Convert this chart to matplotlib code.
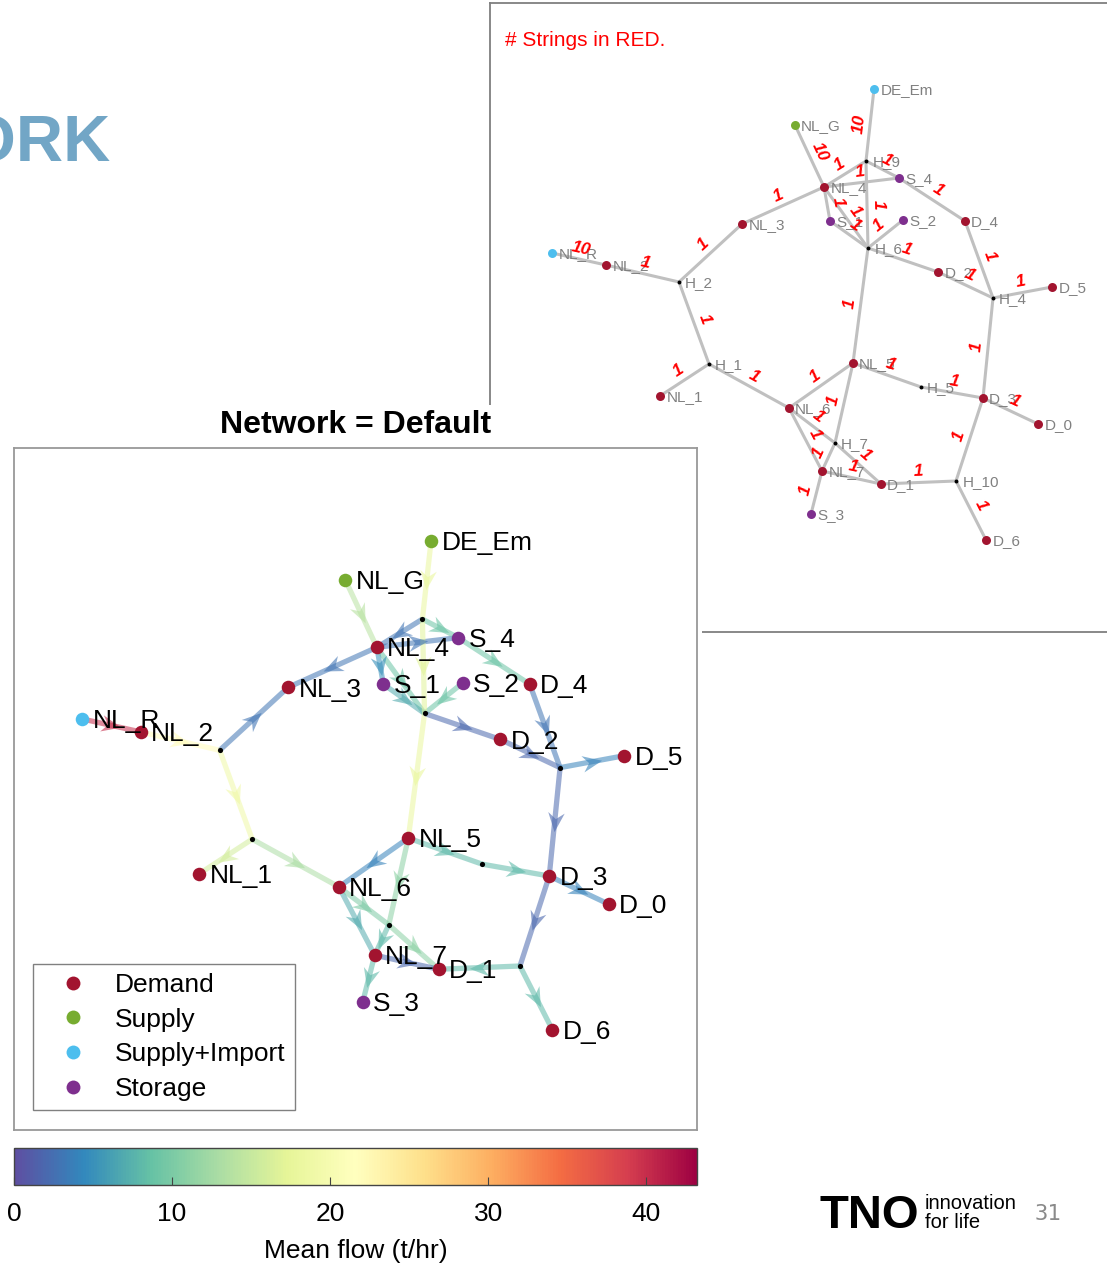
"""
Slide figure: network flow plot (Network = Default) next to the
string-count view of the same network.
"""

import matplotlib.pyplot as plt
import matplotlib.cm as cm
import numpy as np
from matplotlib.collections import LineCollection
from matplotlib.colors import Normalize
from matplotlib.lines import Line2D
from matplotlib.markers import MarkerStyle
from matplotlib.patches import Rectangle
from matplotlib.path import Path
from matplotlib.transforms import Affine2D

plt.rcParams['font.family'] = ['Liberation Sans', 'DejaVu Sans']

W, H = 1107, 1263

# ── data ────────────────────────────────────────────────────
NODES = ['DE_Em', 'NL_G', 'H_9', 'S_4', 'NL_4', 'NL_3', 'S_1', 'S_2', 'D_4',
         'NL_R', 'NL_2', 'H_2', 'H_6', 'D_2', 'H_4', 'D_5', 'H_1', 'NL_5',
         'H_5', 'D_3', 'NL_1', 'NL_6', 'D_0', 'H_7', 'NL_7', 'D_1', 'H_10',
         'S_3', 'D_6']
NODE_X = [3.22, 2.43, 3.14, 3.47, 2.72, 1.90, 2.78, 3.51, 4.13,
          0.00, 0.54, 1.27, 3.16, 3.86, 4.41, 5.00, 1.57, 3.01,
          3.69, 4.31, 1.08, 2.37, 4.86, 2.83, 2.70, 3.29, 4.04,
          2.59, 4.34]
NODE_Y = [4.51, 4.15, 3.79, 3.62, 3.53, 3.16, 3.19, 3.20, 3.19,
          2.87, 2.75, 2.58, 2.92, 2.68, 2.42, 2.53, 1.76, 1.77,
          1.53, 1.42, 1.44, 1.32, 1.16, 0.97, 0.69, 0.56, 0.59,
          0.26, 0.00]
# node types in the flow plot
NODE_TYPE = ['Supply', 'Supply', 'Junction', 'Storage', 'Demand', 'Demand',
             'Storage', 'Storage', 'Demand', 'Supply+Import', 'Demand',
             'Junction', 'Junction', 'Demand', 'Junction', 'Demand',
             'Junction', 'Demand', 'Junction', 'Demand', 'Demand', 'Demand',
             'Demand', 'Junction', 'Demand', 'Demand', 'Junction', 'Storage',
             'Demand']
# node types in the strings view (DE_Em shown as import there)
NODE_TYPE_STR = ['Supply+Import'] + NODE_TYPE[1:]

EDGE_SRC = ['DE_Em', 'NL_G', 'H_9', 'NL_4', 'H_9', 'S_4', 'NL_4', 'H_2',
            'NL_R', 'NL_2', 'H_2', 'H_1', 'H_1', 'NL_4', 'NL_4', 'S_1',
            'S_2', 'H_9', 'H_6', 'H_6', 'D_2', 'D_4', 'H_4', 'H_4',
            'NL_5', 'NL_5', 'H_5', 'D_3', 'D_3', 'H_10', 'H_10', 'NL_6',
            'NL_6', 'H_7', 'NL_5', 'H_7', 'NL_7', 'NL_7']
EDGE_DST = ['H_9', 'NL_4', 'NL_4', 'S_4', 'S_4', 'D_4', 'NL_3', 'NL_3',
            'NL_2', 'H_2', 'H_1', 'NL_1', 'NL_6', 'S_1', 'H_6', 'H_6',
            'H_6', 'H_6', 'NL_5', 'D_2', 'H_4', 'H_4', 'D_5', 'D_3',
            'NL_6', 'H_5', 'D_3', 'D_0', 'H_10', 'D_1', 'D_6', 'NL_7',
            'H_7', 'D_1', 'H_7', 'NL_7', 'S_3', 'D_1']
EDGE_FLOW = [18, 14, 3, 3, 9, 9, 3, 3,
             40, 22, 19, 16, 13, 5, 9, 7,
             9, 17, 18, 2, 2, 3, 4, 2,
             4, 8, 8, 4, 2, 8, 8, 7,
             10, 11, 11, 8, 8, 2]
EDGE_STRINGS = ['10', '10', '1', '1', '1', '1', '1', '1',
                '10', '1', '1', '1', '1', '1', '1', '1',
                '1', '1', '1', '1', '1', '1', '1', '1',
                '1', '1', '1', '1', '1', '1', '1', '1',
                '1', '1', '1', '1', '1', '1']

LEGEND_TYPES = ['Demand', 'Supply', 'Supply+Import', 'Storage']
FLOW_MAX = 43.2
CBAR_TICKS = [0, 10, 20, 30, 40]

# ── style ───────────────────────────────────────────────────
TYPE_COLOR = {
    'Demand': '#a2142f',
    'Supply': '#77ac30',
    'Supply+Import': '#4dbeee',
    'Storage': '#7e2f8e',
    'Junction': 'black',
}
HEAD_BLUE = '#72a6c6'
GREY_EDGE = '#c0c0c0'
GREY_TEXT = '#808080'

# notched arrowhead, pointing along +x
ARROW = Path([(1, 0), (-1, 0.85), (-0.35, 0), (-1, -0.85), (1, 0)],
             [Path.MOVETO, Path.LINETO, Path.LINETO, Path.LINETO,
              Path.CLOSEPOLY])

pos = dict(zip(NODES, zip(NODE_X, NODE_Y)))


def edge_geometry(s, d):
    (x0, y0), (x1, y1) = pos[s], pos[d]
    ang = np.degrees(np.arctan2(y1 - y0, x1 - x0))
    return x0, y0, x1, y1, ang


fig = plt.figure(figsize=(W / 100, H / 100), dpi=100)
fig.patch.set_facecolor('white')

# ── right panel: strings view ───────────────────────────────
axr = fig.add_axes([490 / W, 1 - 632 / H, 617 / W, 629 / H], zorder=0)
axr.set_xlim(-0.62, 5.55)
axr.set_ylim(-0.92, 5.37)
axr.set_xticks([])
axr.set_yticks([])
for side in ['top', 'left', 'bottom']:
    axr.spines[side].set_color('#7f7f7f')
    axr.spines[side].set_linewidth(1.3)
axr.spines['right'].set_visible(False)

segs = [[pos[s], pos[d]] for s, d in zip(EDGE_SRC, EDGE_DST)]
axr.add_collection(LineCollection(segs, colors=GREY_EDGE, linewidths=2.2,
                                  zorder=1))

for name, t in zip(NODES, NODE_TYPE_STR):
    x, y = pos[name]
    if t == 'Junction':
        axr.scatter(x, y, s=8, color='black', zorder=3, linewidths=0)
    else:
        axr.scatter(x, y, s=42, color=TYPE_COLOR[t], zorder=3, linewidths=0)
    axr.annotate(name, (x, y), xytext=(4.5, -0.5), textcoords='offset points',
                 ha='left', va='center', fontsize=11, color=GREY_TEXT,
                 zorder=4)

for s, d, lab in zip(EDGE_SRC, EDGE_DST, EDGE_STRINGS):
    x0, y0, x1, y1, ang = edge_geometry(s, d)
    if ang > 90:
        ang -= 180
    elif ang < -90:
        ang += 180
    n = np.array([-(y1 - y0), x1 - x0])
    n = n / np.hypot(*n)
    if n[1] < 0:
        n = -n
    mx, my = (x0 + x1) / 2 + 0.11 * n[0], (y0 + y1) / 2 + 0.11 * n[1]
    axr.text(mx, my, lab, rotation=ang, rotation_mode='anchor',
             ha='center', va='center', fontsize=12.5, color='red',
             fontweight='bold', style='italic', zorder=5)

axr.text(15 / 617, 1 - 43 / 629, '# Strings in RED.', transform=axr.transAxes,
         ha='left', va='baseline', fontsize=15, color='red')

# white sheet of the left figure on top of the right panel
fig.add_artist(Rectangle((0, 0), 702 / W, 1 - 405 / H,
                         transform=fig.transFigure, facecolor='white',
                         edgecolor='none', zorder=1))

# ── left panel: mean flow plot ──────────────────────────────
ax = fig.add_axes([14 / W, 1 - 1130 / H, 683 / W, 682 / H], zorder=2)
ax.set_xlim(-0.627, 5.673)
ax.set_ylim(-0.923, 5.369)
ax.set_xticks([])
ax.set_yticks([])
for sp in ax.spines.values():
    sp.set_color('#999999')
    sp.set_linewidth(1.3)

norm = Normalize(0, FLOW_MAX)
cmap = plt.get_cmap('Spectral_r')
cols = cmap(norm(np.array(EDGE_FLOW)))

ax.add_collection(LineCollection(segs, colors=cols, linewidths=3.8,
                                 alpha=0.55, zorder=1))
for s, d, c in zip(EDGE_SRC, EDGE_DST, cols):
    x0, y0, x1, y1, ang = edge_geometry(s, d)
    ax.plot((x0 + x1) / 2, (y0 + y1) / 2, ls='none',
            marker=MarkerStyle(ARROW, transform=Affine2D().rotate_deg(ang)),
            ms=14, color=c, mec='none', alpha=0.6, zorder=2)

for name, t in zip(NODES, NODE_TYPE):
    x, y = pos[name]
    if t == 'Junction':
        ax.scatter(x, y, s=14, color='black', zorder=3, linewidths=0)
        continue
    ax.scatter(x, y, s=95, color=TYPE_COLOR[t], zorder=3, linewidths=0)
    ax.annotate(name, (x, y), xytext=(7.5, -1.5), textcoords='offset points',
                ha='left', va='center', fontsize=19, color='black', zorder=4)

ax.set_title('Network = Default', fontsize=23, fontweight='bold', pad=10.5)

handles = [Line2D([], [], ls='none', marker='o', ms=10, mec='none',
                  color=TYPE_COLOR[t], label=t) for t in LEGEND_TYPES]
leg = ax.legend(handles=handles, loc='lower left',
                bbox_to_anchor=(19 / 683, 20 / 682), borderaxespad=0,
                fontsize=19, fancybox=False, framealpha=1,
                edgecolor='#808080', labelspacing=0.4, handlelength=2.3,
                handletextpad=0.45, borderpad=0.35)
leg.get_frame().set_linewidth(1.0)

# colour bar
cax = fig.add_axes([14 / W, 1 - 1185 / H, 683 / W, 37 / H], zorder=2)
sm = cm.ScalarMappable(norm=norm, cmap=cmap)
cb = fig.colorbar(sm, cax=cax, orientation='horizontal')
cb.set_ticks(CBAR_TICKS)
cax.tick_params(direction='in', length=6, width=0.8, color='#444444',
                labelsize=19, pad=12.5)
cb.outline.set_edgecolor('#444444')
cb.outline.set_linewidth(1.0)
cb.set_label('Mean flow (t/hr)', fontsize=19, labelpad=9)

# ── slide decorations ───────────────────────────────────────
fig.text(111 / W, 1 - 162 / H, 'NETWORK', ha='right', va='baseline',
         fontsize=47, fontweight='bold', color=HEAD_BLUE)
fig.text(819 / W, 1 - 1228 / H, 'TNO', ha='left', va='baseline',
         fontsize=34, fontweight='bold', color='black')
fig.text(925 / W, 1 - 1209 / H, 'innovation', ha='left', va='baseline',
         fontsize=14.5, color='black')
fig.text(925 / W, 1 - 1228 / H, 'for life', ha='left', va='baseline',
         fontsize=14.5, color='black')
fig.text(1035 / W, 1 - 1220 / H, '31', ha='left', va='baseline',
         fontsize=16, color='#8a8a8a', family='DejaVu Sans Mono')

fig.savefig('out.png', dpi=100, facecolor='white')
